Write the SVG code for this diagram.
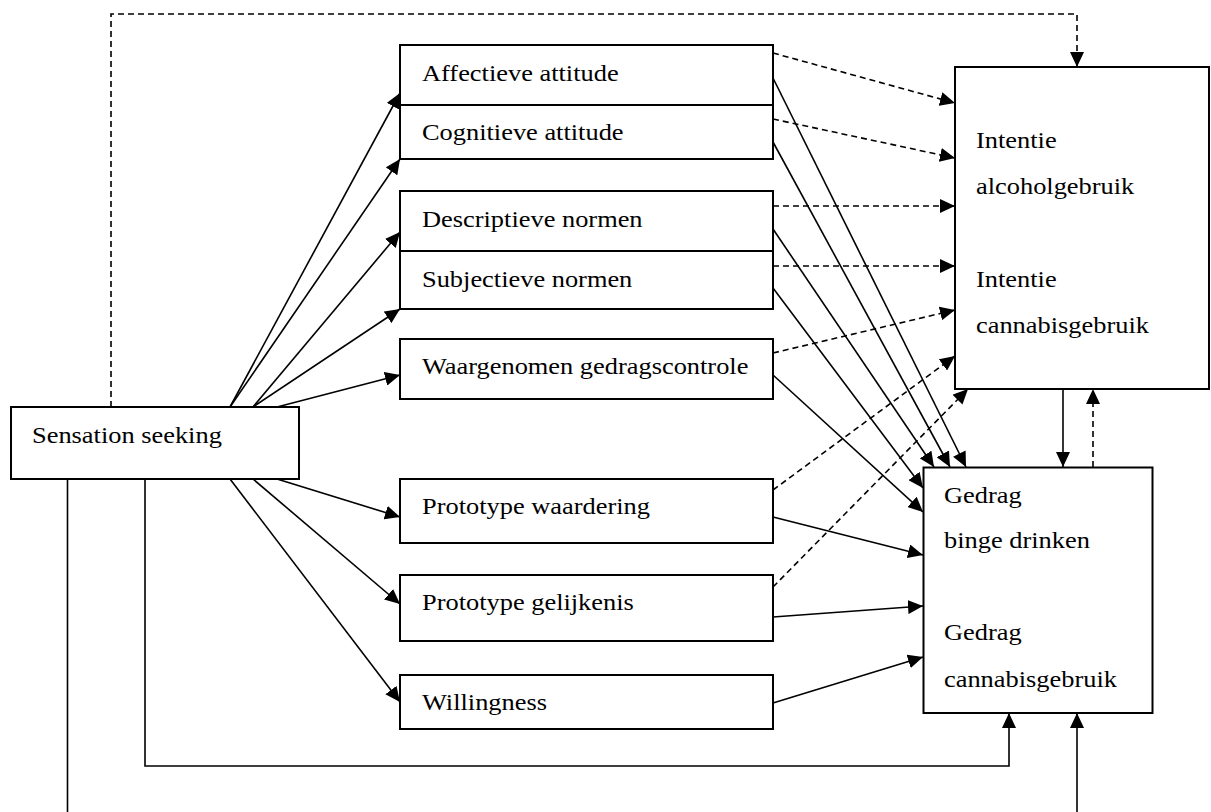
<svg xmlns="http://www.w3.org/2000/svg" width="1211" height="812" viewBox="0 0 1211 812">
<style>
.box{fill:#fff;stroke:#000;stroke-width:2}
.ln{fill:none;stroke:#000;stroke-width:1.6}
.ds{fill:none;stroke:#000;stroke-width:1.6;stroke-dasharray:6 4}
.t{font-family:'Liberation Serif','Times New Roman',Times,serif;font-size:24px;fill:#000}
</style>
<defs>
<marker id="ah" markerUnits="userSpaceOnUse" markerWidth="16" markerHeight="14" refX="15" refY="7" orient="auto-start-reverse" viewBox="0 0 16 14">
<path d="M0,0 L15,7 L0,14 z" fill="#000"/>
</marker>
</defs>
<rect width="1211" height="812" fill="#fff"/>
<g id="connectors">
<line class="ln" x1="230" y1="407" x2="400" y2="93" marker-end="url(#ah)"/>
<line class="ln" x1="230" y1="407" x2="400" y2="159" marker-end="url(#ah)"/>
<line class="ln" x1="253" y1="407" x2="400" y2="232" marker-end="url(#ah)"/>
<line class="ln" x1="253" y1="407" x2="400" y2="309" marker-end="url(#ah)"/>
<line class="ln" x1="277" y1="407" x2="400" y2="375" marker-end="url(#ah)"/>
<line class="ln" x1="277" y1="479" x2="400" y2="517" marker-end="url(#ah)"/>
<line class="ln" x1="253" y1="479" x2="400" y2="604" marker-end="url(#ah)"/>
<line class="ln" x1="230" y1="479" x2="400" y2="702" marker-end="url(#ah)"/>
<line class="ds" x1="773" y1="53" x2="955" y2="103" marker-end="url(#ah)"/>
<line class="ds" x1="773" y1="119" x2="955" y2="158" marker-end="url(#ah)"/>
<line class="ds" x1="773" y1="206" x2="955" y2="206" marker-end="url(#ah)"/>
<line class="ds" x1="773" y1="266" x2="955" y2="266" marker-end="url(#ah)"/>
<line class="ds" x1="773" y1="353" x2="955" y2="310" marker-end="url(#ah)"/>
<line class="ds" x1="773" y1="490" x2="955" y2="356" marker-end="url(#ah)"/>
<line class="ds" x1="773" y1="587" x2="968" y2="389" marker-end="url(#ah)"/>
<line class="ln" x1="773" y1="78" x2="966" y2="467" marker-end="url(#ah)"/>
<line class="ln" x1="773" y1="142" x2="950" y2="467" marker-end="url(#ah)"/>
<line class="ln" x1="773" y1="229" x2="934" y2="467" marker-end="url(#ah)"/>
<line class="ln" x1="773" y1="288" x2="923" y2="488" marker-end="url(#ah)"/>
<line class="ln" x1="773" y1="375" x2="923" y2="512" marker-end="url(#ah)"/>
<line class="ln" x1="773" y1="517" x2="923" y2="555" marker-end="url(#ah)"/>
<line class="ln" x1="773" y1="617" x2="923" y2="606" marker-end="url(#ah)"/>
<line class="ln" x1="773" y1="703" x2="923" y2="657" marker-end="url(#ah)"/>
<line class="ln" x1="1063" y1="389" x2="1063" y2="467" marker-end="url(#ah)"/>
<line class="ds" x1="1093" y1="467" x2="1093" y2="389" marker-end="url(#ah)"/>
<line class="ln" x1="1010" y1="206" x2="1010" y2="265" marker-start="url(#ah)" marker-end="url(#ah)"/>
<line class="ln" x1="971" y1="557" x2="971" y2="617" marker-start="url(#ah)" marker-end="url(#ah)"/>
<polyline class="ds" points="111,407 111,14 1077,14 1077,67" marker-end="url(#ah)"/>
<polyline class="ln" points="145,479 145,766 1009,766 1009,713" marker-end="url(#ah)"/>
<line class="ln" x1="67.5" y1="479" x2="67.5" y2="812"/>
<line class="ln" x1="1077" y1="812" x2="1077" y2="713" marker-end="url(#ah)"/>
</g>
<g id="sensation-seeking">
<rect class="box" x="11" y="407" width="288" height="72"/>
<text class="t" transform="translate(32,443) scale(1.1,1)">Sensation seeking</text>
</g>
<g id="attitude">
<rect class="box" x="400" y="45" width="373" height="114"/>
<line class="box" x1="400" y1="105" x2="773" y2="105"/>
</g>
<g id="affectieve-attitude">
<text class="t" transform="translate(422,81) scale(1.1,1)">Affectieve attitude</text>
</g>
<g id="cognitieve-attitude">
<text class="t" transform="translate(422,140) scale(1.1,1)">Cognitieve attitude</text>
</g>
<g id="normen">
<rect class="box" x="400" y="191" width="373" height="118"/>
<line class="box" x1="400" y1="251" x2="773" y2="251"/>
</g>
<g id="descriptieve-normen">
<text class="t" transform="translate(422,227) scale(1.1,1)">Descriptieve normen</text>
</g>
<g id="subjectieve-normen">
<text class="t" transform="translate(422,287) scale(1.1,1)">Subjectieve normen</text>
</g>
<g id="waargenomen-gedragscontrole">
<rect class="box" x="400" y="339" width="373" height="60"/>
<text class="t" transform="translate(422,374) scale(1.1,1)">Waargenomen gedragscontrole</text>
</g>
<g id="prototype-waardering">
<rect class="box" x="400" y="479" width="373" height="64"/>
<text class="t" transform="translate(422,514) scale(1.1,1)">Prototype waardering</text>
</g>
<g id="prototype-gelijkenis">
<rect class="box" x="400" y="575" width="373" height="66"/>
<text class="t" transform="translate(422,610) scale(1.1,1)">Prototype gelijkenis</text>
</g>
<g id="willingness">
<rect class="box" x="400" y="675" width="373" height="54"/>
<text class="t" transform="translate(422,710) scale(1.1,1)">Willingness</text>
</g>
<g id="intentie">
<rect class="box" x="955" y="67" width="254" height="322" fill="none"/>
<text class="t" transform="translate(976,148) scale(1.1,1)">Intentie</text>
<text class="t" transform="translate(976,194) scale(1.1,1)">alcoholgebruik</text>
<text class="t" transform="translate(976,287) scale(1.1,1)">Intentie</text>
<text class="t" transform="translate(976,333) scale(1.1,1)">cannabisgebruik</text>
</g>
<g id="gedrag">
<rect class="box" x="923.5" y="467.5" width="229" height="245.5" fill="none"/>
<text class="t" transform="translate(944,503) scale(1.1,1)">Gedrag</text>
<text class="t" transform="translate(944,548) scale(1.1,1)">binge drinken</text>
<text class="t" transform="translate(944,640) scale(1.1,1)">Gedrag</text>
<text class="t" transform="translate(944,687) scale(1.1,1)">cannabisgebruik</text>
</g>
</svg>
